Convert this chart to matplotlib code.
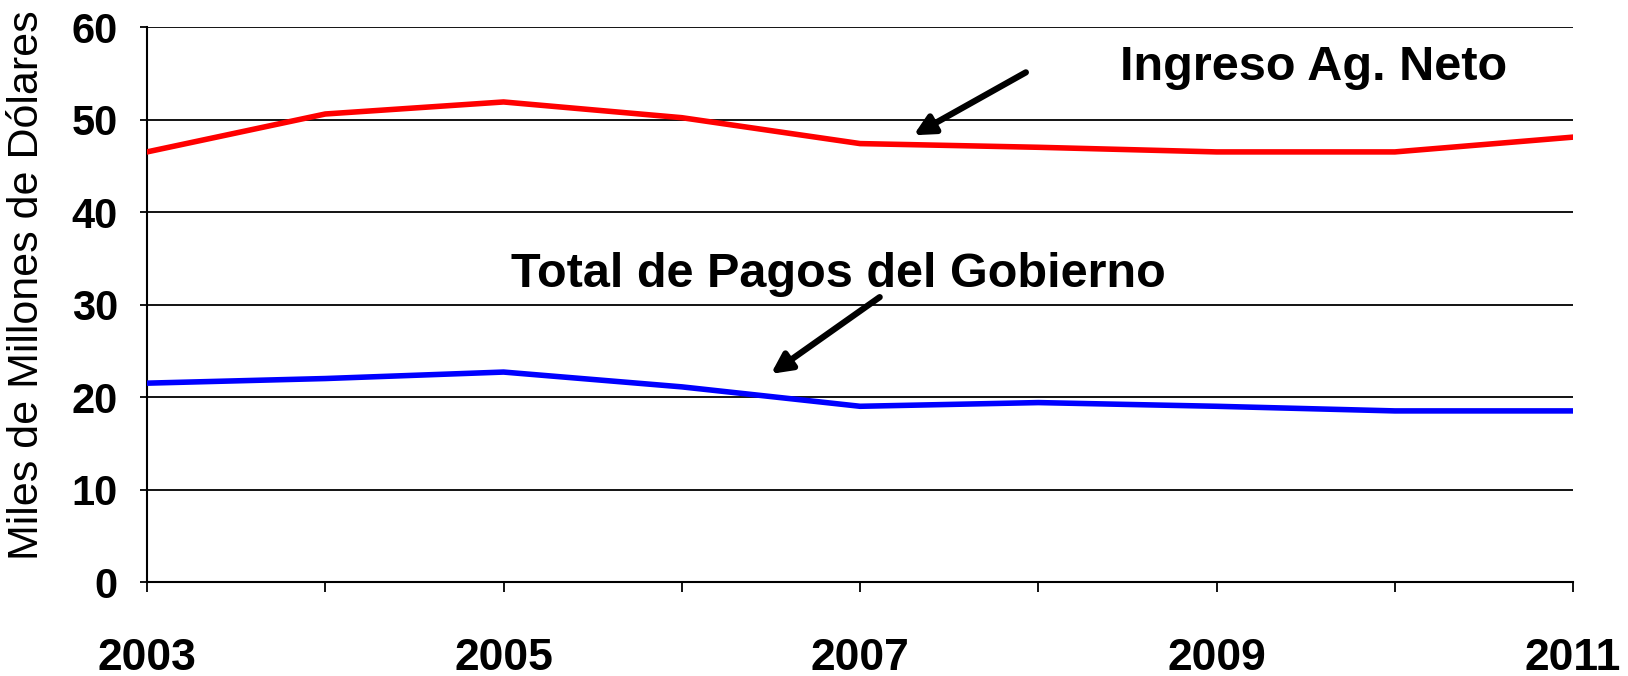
import matplotlib.pyplot as plt

years = [2003, 2004, 2005, 2006, 2007, 2008, 2009, 2010, 2011]
ingreso_neto = [46.5, 50.6, 51.9, 50.2, 47.4, 47.0, 46.5, 46.5, 48.1]
pagos_gobierno = [21.5, 22.0, 22.7, 21.1, 19.0, 19.4, 19.0, 18.5, 18.5]
year_labels = ['2003', '', '2005', '', '2007', '', '2009', '', '2011']
y_ticks = [0, 10, 20, 30, 40, 50, 60]

plt.rcParams['font.family'] = ['Liberation Sans', 'DejaVu Sans']

fig = plt.figure(figsize=(16.28, 6.76), dpi=100)
ax = fig.add_axes([0.0903, 0.139, 0.876, 0.821])

for y in y_ticks[1:]:
    ax.axhline(y, color='black', lw=1.3, zorder=1)

ax.plot(years, ingreso_neto, color='#ff0000', lw=4, zorder=3)
ax.plot(years, pagos_gobierno, color='#0000ff', lw=4, zorder=3)

ax.set_xlim(2003, 2011)
ax.set_ylim(0, 60)
ax.set_xticks(years)
ax.set_xticklabels(year_labels, fontsize=32, fontweight='bold')
ax.set_yticks(y_ticks)
ax.set_yticklabels([str(v) for v in y_ticks], fontsize=30, fontweight='bold')
ax.tick_params(axis='x', length=7, width=1.3, pad=33, direction='out')
ax.tick_params(axis='y', length=5, width=1.3, pad=16, direction='out')
ax.set_ylabel('Miles de Millones de Dólares', fontsize=31)
ax.yaxis.set_label_coords(-0.07, 0.534)

ax.spines['top'].set_visible(False)
ax.spines['right'].set_visible(False)
ax.spines['left'].set_linewidth(1.5)
ax.spines['bottom'].set_linewidth(1.5)

arrow = dict(arrowstyle='-|>,head_length=1.2,head_width=0.6', color='black', lw=4.5,
             shrinkA=0, shrinkB=0)
ax.annotate('', xy=(2007.30, 48.3), xytext=(2007.93, 55.1), arrowprops=arrow, zorder=4)
ax.annotate('', xy=(2006.50, 22.5), xytext=(2007.11, 30.8), arrowprops=arrow, zorder=4)

ax.text(2008.46, 55.6, 'Ingreso Ag. Neto', fontsize=35, fontweight='bold',
        ha='left', va='center')
ax.text(2006.88, 33.2, 'Total de Pagos del Gobierno', fontsize=35, fontweight='bold',
        ha='center', va='center')

fig.savefig('out.png', dpi=100)
